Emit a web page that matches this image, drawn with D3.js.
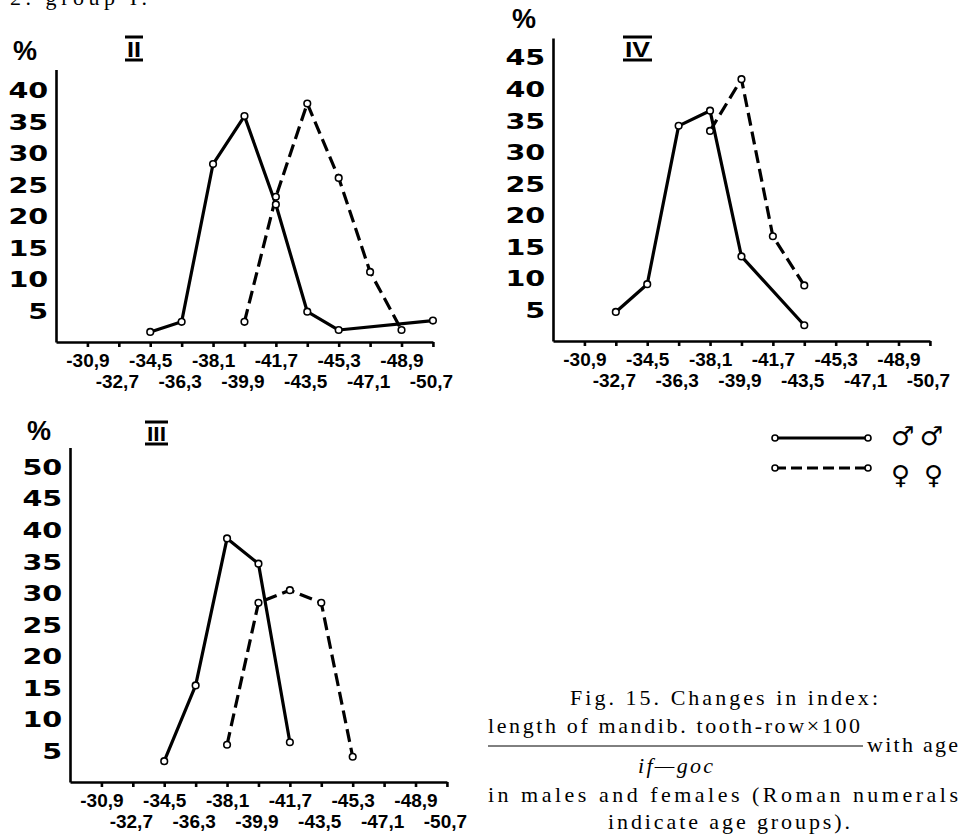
<!DOCTYPE html>
<html>
<head>
<meta charset="utf-8">
<script src="https://cdn.jsdelivr.net/npm/d3@7"></script>
<style>
  body { margin: 0; background: #fff; }
  svg { display: block; }
</style>
</head>
<body>
<svg width="964" height="834"></svg>
<script>
// index class bins (shown negative on the axis)
const bins = [30.9, 32.7, 34.5, 36.3, 38.1, 39.9, 41.7, 43.5, 45.3, 47.1, 48.9, 50.7];
const binLabels = ['-30,9', '-32,7', '-34,5', '-36,3', '-38,1', '-39,9', '-41,7', '-43,5', '-45,3', '-47,1', '-48,9', '-50,7'];

const yTicksII = [5, 10, 15, 20, 25, 30, 35, 40];
const yTicksIV = [5, 10, 15, 20, 25, 30, 35, 40, 45];
const yTicksIII = [5, 10, 15, 20, 25, 30, 35, 40, 45, 50];

// [bin, percent]
const malesII = [[34.5, 1.6], [36.3, 3.2], [38.1, 28.2], [39.9, 35.8], [41.7, 21.8], [43.5, 4.8], [45.3, 1.9], [50.7, 3.4]];
const femalesII = [[39.9, 3.2], [41.7, 23.0], [43.5, 37.8], [45.3, 26.0], [47.1, 11.1], [48.9, 1.9]];

const malesIV = [[32.7, 4.6], [34.5, 9.0], [36.3, 34.1], [38.1, 36.5], [39.9, 13.4], [43.5, 2.5]];
const femalesIV = [[38.1, 33.3], [39.9, 41.5], [41.7, 16.6], [43.5, 8.8]];

const malesIII = [[34.5, 3.3], [36.3, 15.3], [38.1, 38.6], [39.9, 34.6], [41.7, 6.3]];
const femalesIII = [[38.1, 5.9], [39.9, 28.4], [41.7, 30.4], [43.5, 28.4], [45.3, 4.0]];

const yUnit = 6.31;     // px per percent
const xUnit = 17.45;    // px per index unit

const svg = d3.select('svg');

function drawPanel(p, males, females, yTicks) {
  const x = d3.scaleLinear().domain([29.1, 50.7]).range([p.left, p.left + 21.6 * xUnit]);
  const y = d3.scaleLinear().domain([0, p.yTop]).range([p.base, p.base - p.yTop * yUnit]);
  const g = svg.append('g').attr('class', 'panel');

  const xg = g.append('g')
    .attr('transform', `translate(0, ${p.base})`)
    .call(d3.axisBottom(x).tickValues(bins).tickFormat((d, i) => binLabels[i]).tickSize(5).tickSizeOuter(0));
  xg.selectAll('text')
    .attr('dy', null)
    .attr('y', (d, i) => i % 2 ? 46 : 25)
    .attr('x', (d, i) => i % 2 ? -2 : 0)
    .style('font-family', '"Liberation Sans", Arial, sans-serif')
    .style('font-weight', 'bold')
    .style('font-size', '19px')
    .attr('fill', '#000');

  const yg = g.append('g')
    .attr('transform', `translate(${p.left}, 0)`)
    .call(d3.axisLeft(y).tickValues(yTicks).tickSize(0).tickPadding(6).tickSizeOuter(0));
  yg.selectAll('text')
    .attr('dy', '0.36em')
    .attr('transform', 'scale(1.3,1)')
    .style('font-family', '"DejaVu Sans", sans-serif')
    .style('font-weight', 'bold')
    .style('font-size', '22px')
    .attr('fill', '#000');

  g.selectAll('.domain').attr('stroke', '#000').attr('stroke-width', 2.6);
  g.selectAll('.tick line').attr('stroke', '#000').attr('stroke-width', 2.6);

  const line = d3.line().x(d => x(d[0])).y(d => y(d[1]));

  g.append('path').datum(males)
    .attr('d', line).attr('fill', 'none').attr('stroke', '#000')
    .attr('stroke-width', 3.2).attr('stroke-linejoin', 'round');
  g.append('path').datum(females)
    .attr('d', line).attr('fill', 'none').attr('stroke', '#000')
    .attr('stroke-width', 3.2).attr('stroke-dasharray', '13,6');

  g.selectAll('.pt').data(males.concat(females)).enter()
    .append('circle')
    .attr('cx', d => x(d[0])).attr('cy', d => y(d[1]))
    .attr('r', 3.3).attr('fill', '#fff').attr('stroke', '#000').attr('stroke-width', 1.6);

  // % label
  g.append('text')
    .attr('x', p.pctX).attr('y', p.pctY)
    .style('font-family', '"Liberation Sans", Arial, sans-serif')
    .style('font-weight', 'bold').style('font-size', '27px')
    .text('%');

  // roman numeral with bars
  const t = p.title;
  g.append('text')
    .attr('x', (t.x1 + t.x2) / 2).attr('y', t.bottom - 3)
    .attr('text-anchor', 'middle')
    .style('font-family', '"Liberation Sans", Arial, sans-serif')
    .style('font-weight', 'bold').style('font-size', t.size + 'px')
    .attr('textLength', t.x2 - t.x1 - 4).attr('lengthAdjust', 'spacingAndGlyphs')
    .text(t.label);
  [t.top, t.bottom].forEach(yy => {
    g.append('line')
      .attr('x1', t.x1).attr('x2', t.x2).attr('y1', yy).attr('y2', yy)
      .attr('stroke', '#000').attr('stroke-width', 3);
  });
}

drawPanel({left: 56, base: 342, yTop: 43.2, pctX: 13, pctY: 60,
  title: {label: 'II', x1: 125, x2: 143, top: 37, bottom: 60, size: 22}}, malesII, femalesII, yTicksII);
drawPanel({left: 553, base: 341, yTop: 48, pctX: 512, pctY: 28,
  title: {label: 'IV', x1: 623, x2: 652, top: 37, bottom: 60, size: 22}}, malesIV, femalesIV, yTicksIV);
drawPanel({left: 70, base: 782, yTop: 53, pctX: 27, pctY: 440,
  title: {label: 'III', x1: 145, x2: 168, top: 422, bottom: 444, size: 20}}, malesIII, femalesIII, yTicksIII);

// legend
const legend = svg.append('g');
[{y: 438, dash: null, sym: '♂ ♂', ty: 445}, {y: 468, dash: '11,5', sym: '♀ ♀', ty: 484}].forEach(l => {
  legend.append('line')
    .attr('x1', 775).attr('x2', 868).attr('y1', l.y).attr('y2', l.y)
    .attr('stroke', '#000').attr('stroke-width', 3)
    .attr('stroke-dasharray', l.dash);
  [775, 868].forEach(cx => legend.append('circle')
    .attr('cx', cx).attr('cy', l.y).attr('r', 3)
    .attr('fill', '#fff').attr('stroke', '#000').attr('stroke-width', 1.6));
  legend.append('text')
    .attr('x', 891).attr('y', l.ty)
    .attr('textLength', 52).attr('lengthAdjust', 'spacing')
    .style('font-family', '"DejaVu Sans", sans-serif')
    .style('font-weight', 'bold').style('font-size', '26px')
    .text(l.sym);
});

// text
const serif = '"Liberation Serif", "DejaVu Serif", serif';
const caption = svg.append('g').style('font-family', serif).style('font-size', '22px');
function capLine(txt, x, y, len, italic) {
  caption.append('text').attr('x', x).attr('y', y)
    .attr('textLength', len).attr('lengthAdjust', 'spacing')
    .style('font-style', italic ? 'italic' : 'normal')
    .text(txt);
}
capLine('2. group I.', 10, 5, 137);
capLine('Fig. 15. Changes in index:', 570, 705, 308);
capLine('length of mandib. tooth-row×100', 488, 733, 372);
capLine('with age', 867, 752, 91);
capLine('if—goc', 638, 773, 75, true);
capLine('in males and females (Roman numerals', 488, 802, 470);
capLine('indicate age groups).', 608, 829, 242);
caption.append('line')
  .attr('x1', 488).attr('x2', 863).attr('y1', 746).attr('y2', 746)
  .attr('stroke', '#000').attr('stroke-width', 1);
</script>
</body>
</html>
